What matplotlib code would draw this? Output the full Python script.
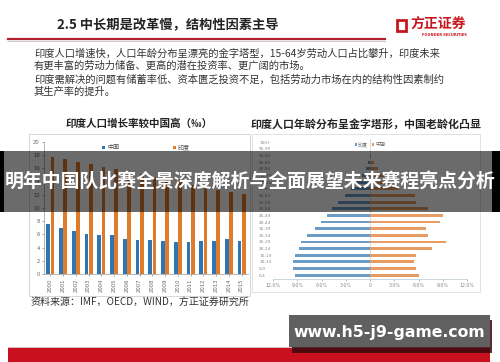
import numpy as np
import matplotlib
matplotlib.use("Agg")
import matplotlib.pyplot as plt
from matplotlib.patches import Rectangle
from matplotlib.lines import Line2D

plt.rcParams['font.family'] = ['Noto Sans CJK SC', 'DejaVu Sans']

# data: left chart, natural growth rate (per mille)
years = [str(y) for y in range(2000, 2016)]
china_rate = [7.6, 7.0, 6.5, 6.0, 5.9, 5.9, 5.3, 5.2, 5.1, 5.0, 4.8, 4.8, 5.0, 4.95, 5.25, 5.0]
india_rate = [17.8, 17.4, 17.0, 16.6, 16.2, 15.9, 15.5, 15.1, 14.7, 14.3, 13.9, 13.5, 13.1, 12.8, 12.5, 12.1]

# data: right chart, share of population by age group (%)
age_groups = ['0-4', '5-9', '10-14', '15-19', '20-24', '25-29', '30-34', '35-39', '40-44',
              '45-49', '50-54', '55-59', '60-64', '65-69', '70-74', '75-79', '80-84',
              '85-89', '90-94', '95-99', '100+']
india_share = [9.3, 9.55, 9.55, 9.25, 8.8, 8.5, 7.8, 6.8, 6.05, 5.3, 4.65, 3.9, 3.15,
               2.4, 1.7, 1.0, 0.45, 0.2, 0.06, 0.02, 0.0]
china_share = [6.05, 5.7, 5.5, 5.7, 7.7, 9.4, 7.2, 6.9, 8.7, 9.0, 7.2, 5.7, 5.6,
               3.6, 2.5, 1.75, 1.0, 0.5, 0.15, 0.04, 0.0]
pyr_ticks = [-12, -9, -6, -3, 0, 3, 6, 9, 12]
pyr_ticklabels = ['12.0%', '9.0%', '6.0%', '3.0%', '0', '3.0%', '6.0%', '9.0%', '12.0%']

W, H = 500, 362
fig = plt.figure(figsize=(5, 3.62), dpi=100)
fig.patch.set_facecolor('white')

def fx(x):
    return x / W

def fy(y):
    return 1 - y / H

def frect(x0, y0, x1, y1, **kw):
    r = Rectangle((fx(x0), fy(y1)), fx(x1) - fx(x0), fy(y0) - fy(y1),
                  transform=fig.transFigure, **kw)
    fig.add_artist(r)
    return r

# header
fig.text(fx(57), fy(25), '2.5 中长期是改革慢，结构性因素主导', fontsize=9.5,
         fontweight='bold', color='#222222', va='center')
fig.add_artist(Line2D([fx(8), fx(385)], [fy(38.5), fy(38.5)], color='#b2222e', lw=1.6,
                      transform=fig.transFigure))
fig.add_artist(Line2D([fx(8), fx(385)], [fy(40.5), fy(40.5)], color='#cccccc', lw=0.8,
                      transform=fig.transFigure))
# logo
frect(397, 20, 406, 31, facecolor='none', edgecolor='#c8161d', lw=2.0)
fig.text(fx(410), fy(24), '方正证券', fontsize=10, fontweight='bold', color='#c8161d', va='center')
fig.text(fx(422), fy(35.5), 'FOUNDER SECURITIES', fontsize=2.6, fontweight='bold',
         color='#c8161d', va='center', family='DejaVu Sans')

body = [
    ('印度人口增速快，人口年龄分布呈漂亮的金字塔型，15-64岁劳动人口占比攀升，印度未来', 54),
    ('有更丰富的劳动力储备、更高的潜在投资率、更广阔的市场。', 66),
    ('印度需解决的问题有储蓄率低、资本匮乏投资不足，包括劳动力市场在内的结构性因素制约', 79.5),
    ('其生产率的提升。', 91.5),
]
for line, yy in body:
    fig.text(fx(34), fy(yy), line, fontsize=7.4, color='#333333', va='center')

# chart frames and titles
frect(29, 134, 250, 296, facecolor='none', edgecolor='#d6d6d6', lw=0.7)
frect(252, 134, 480, 292, facecolor='none', edgecolor='#e2e2e2', lw=0.7)
fig.text(fx(139), fy(124), '印度人口增长率较中国高（‰）', fontsize=7.6, fontweight='bold',
         color='#222222', ha='center', va='center')
fig.text(fx(366), fy(124), '印度人口年龄分布呈金字塔形，中国老龄化凸显', fontsize=7.9,
         fontweight='bold', color='#222222', ha='center', va='center')

# left chart
ax1 = fig.add_axes([fx(44), fy(274), fx(248) - fx(44), fy(142) - fy(274)])
x = np.arange(len(years))
ax1.bar(x - 0.17, china_rate, width=0.3, color='#2e75b6', label='中国')
ax1.bar(x + 0.17, india_rate, width=0.3, color='#e07b29', label='印度')
ax1.set_xlim(-0.5, len(years) - 0.5)
ax1.set_ylim(0, 20)
ax1.set_yticks(range(0, 21, 2))
ax1.set_xticks(x)
ax1.set_xticklabels(years, rotation=90)
ax1.tick_params(labelsize=3.8, colors='#666666', length=1.5, width=0.4, pad=1.5)
for lab in ax1.get_xticklabels() + ax1.get_yticklabels():
    lab.set_family('DejaVu Sans')
for s in ['top', 'right']:
    ax1.spines[s].set_visible(False)
for s in ['left', 'bottom']:
    ax1.spines[s].set_color('#999999')
    ax1.spines[s].set_linewidth(0.5)
ax1.legend(loc='upper center', bbox_to_anchor=(0.5, 1.02), ncol=2, frameon=False,
           fontsize=4.3, handlelength=0.5, handleheight=0.5, columnspacing=9,
           handletextpad=0.3, labelcolor='#444444')

# right chart
ax2 = fig.add_axes([fx(273), fy(278.5), fx(467) - fx(273), fy(139) - fy(278.5)])
yy = np.arange(len(age_groups))
ax2.barh(yy, [-v for v in india_share], height=0.42, color='#6a9cc6', label='印度')
ax2.barh(yy, china_share, height=0.42, color='#e69c62', label='中国')
ax2.axvline(0, color='#cfcfcf', lw=0.5, zorder=0)
ax2.set_xlim(-12, 12)
ax2.set_ylim(-0.5, len(age_groups) - 0.5)
ax2.set_xticks(pyr_ticks)
ax2.set_xticklabels(pyr_ticklabels)
ax2.set_yticks(yy)
ax2.set_yticklabels(age_groups)
ax2.tick_params(axis='x', labelsize=3.4, colors='#888888', length=1.5, width=0.4, pad=2)
ax2.tick_params(axis='y', labelsize=3.1, colors='#888888', length=0, pad=10)
for lab in ax2.get_yticklabels():
    lab.set_horizontalalignment('left')
for lab in ax2.get_xticklabels() + ax2.get_yticklabels():
    lab.set_family('DejaVu Sans')
for s in ['top', 'right', 'left']:
    ax2.spines[s].set_visible(False)
ax2.spines['bottom'].set_color('#b8c8d0')
ax2.spines['bottom'].set_linewidth(0.5)
ax2.legend(loc='upper center', bbox_to_anchor=(0.5, 1.01), ncol=2, frameon=False,
           fontsize=3.6, handlelength=0.4, handleheight=0.4, columnspacing=0.8,
           handletextpad=0.3, labelcolor='#666666')

# source
fig.text(fx(31), fy(302), '资料来源：IMF，OECD，WIND，方正证券研究所', fontsize=7.2,
         color='#333333', va='center')

# bottom red bar
frect(8, 347, 490, 362, facecolor='#c8101e', edgecolor='none')
fig.add_artist(Line2D([fx(8), fx(490)], [fy(346.5), fy(346.5)], color='#dddddd', lw=0.6,
                      transform=fig.transFigure))

# watermark box
frect(292, 320, 492, 353, facecolor='#3a0a0e', edgecolor='none', alpha=0.85, zorder=9)
frect(289, 315, 490, 347, facecolor='#606060', edgecolor='none', zorder=10)
fig.text(fx(389.5), fy(332), 'www.h5-j9-game.com', fontsize=11.3, fontweight='bold',
         color='white', ha='center', va='center', family='DejaVu Sans', zorder=11)

# overlay band
frect(0, 151, 500, 212, facecolor='black', edgecolor='none', alpha=0.58, zorder=10)
frect(0, 151, 4, 212, facecolor='black', edgecolor='none', zorder=10)
frect(492, 151, 500, 212, facecolor='black', edgecolor='none', zorder=10)
fig.text(fx(250), fy(182), '明年中国队比赛全景深度解析与全面展望未来赛程亮点分析', fontsize=13.6,
         fontweight='bold', color='white', ha='center', va='center', zorder=11)

fig.savefig('out.png', dpi=100, facecolor='white')
